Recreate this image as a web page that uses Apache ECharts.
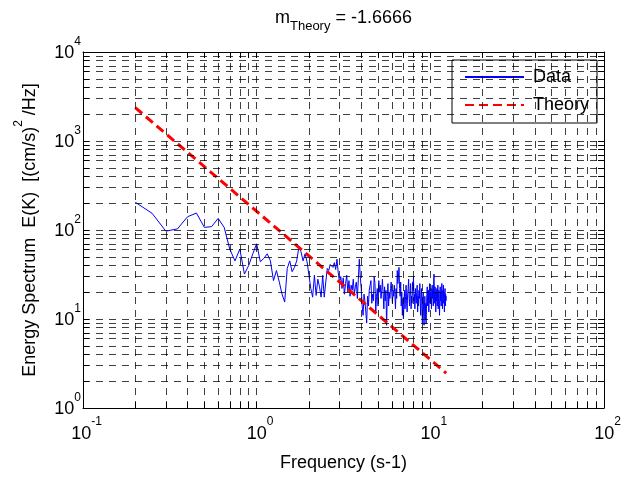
<!DOCTYPE html>
<html><head><meta charset="utf-8">
<script src="https://cdn.jsdelivr.net/npm/echarts@6/dist/echarts.min.js"></script>
<style>html,body{margin:0;padding:0;background:#fff}#c{width:630px;height:477px}</style>
</head><body><div id="c"></div>
<script>
// Frequency samples (Hz)
const freq = [
  0.20,0.25,0.30,0.35,0.40,0.45,0.50,0.55,0.60,0.65,
  0.70,0.75,0.80,0.85,0.90,0.95,1.00,1.05,1.10,1.15,
  1.20,1.25,1.30,1.35,1.40,1.45,1.50,1.55,1.60,1.65,
  1.70,1.75,1.80,1.85,1.90,1.95,2.00,2.05,2.10,2.15,
  2.20,2.25,2.30,2.35,2.40,2.45,2.50,2.55,2.60,2.65,
  2.70,2.75,2.80,2.85,2.90,2.95,3.00,3.05,3.10,3.15,
  3.20,3.25,3.30,3.35,3.40,3.45,3.50,3.55,3.60,3.65,
  3.70,3.75,3.80,3.85,3.90,3.95,4.00,4.05,4.10,4.15,
  4.20,4.25,4.30,4.35,4.40,4.45,4.50,4.55,4.60,4.65,
  4.70,4.75,4.80,4.85,4.90,4.95,5.00,5.05,5.10,5.15,
  5.20,5.25,5.30,5.35,5.40,5.45,5.50,5.55,5.60,5.65,
  5.70,5.75,5.80,5.85,5.90,5.95,6.00,6.05,6.10,6.15,
  6.20,6.25,6.30,6.35,6.40,6.45,6.50,6.55,6.60,6.65,
  6.70,6.75,6.80,6.85,6.90,6.95,7.00,7.05,7.10,7.15,
  7.20,7.25,7.30,7.35,7.40,7.45,7.50,7.55,7.60,7.65,
  7.70,7.75,7.80,7.85,7.90,7.95,8.00,8.05,8.10,8.15,
  8.20,8.25,8.30,8.35,8.40,8.45,8.50,8.55,8.60,8.65,
  8.70,8.75,8.80,8.85,8.90,8.95,9.00,9.05,9.10,9.15,
  9.20,9.25,9.30,9.35,9.40,9.45,9.50,9.55,9.60,9.65,
  9.70,9.75,9.80,9.85,9.90,9.95,10.00,10.05,10.10,10.15,
  10.20,10.25,10.30,10.35,10.40,10.45,10.50,10.55,10.60,10.65,
  10.70,10.75,10.80,10.85,10.90,10.95,11.00,11.05,11.10,11.15,
  11.20,11.25,11.30,11.35,11.40,11.45,11.50,11.55,11.60,11.65,
  11.70,11.75,11.80,11.85,11.90,11.95,12.00,12.05,12.10,12.15,
  12.20,12.25,12.30,12.35
];
// Measured energy spectrum values
const energy = [
  205,154,97,103,141,155,107,109,135,107,
  61,45,61,32,40,54,70,44,48,54,
  45,27,35,26,19,15.5,37,45,34,38,
  45,64,57,45,54,44,31,22,17.6,31,
  18.4,28,23,17.6,31,17.6,26,37,35,41,
  40,38,43,36,47,33,26,30,22,29,
  19,25,31,20,27,18,24,21,28,19,
  23,26,17,28,47,30,22,14,11,19,
  16,12,9,18,14,21,24,27,15,19,
  16,30,25,12,18,22,14,27,20,24,
  17,21,28,19,13,23,16,21,8.5,18,
  25,14,20,17,22,26,27,15,21,18,
  24,19,13,22,17,35,25,30,38,22,
  18,26,14,20,11,17,10,15,21,13,
  18,24,16,12,19,22,28,17,14,20,
  25,13,18,15,26,21,30,16,19,13,
  22,17,15,20,24,12,18,14,21,17,
  25,15,11,19,22,13,9,16,20,12,
  8.5,14,18,10,15,8.8,13,19,23,14,
  17,21,12,18,25,15,20,16,22,13,
  19,24,17,21,14,26,32,20,15,23,
  18,12,20,16,22,14,19,24,13,17,
  21,15,11,18,23,16,20,14,19,25,
  17,13,21,18,24,15,20,12,17,22,
  14,19,16,18
];
// Theory line endpoints (slope -5/3)
const theoryFreq = [0.2, 12.35];
const theoryEnergy = [2370, 2.46];

const xDecades = [0.1, 1, 10];
const yDecades = [1, 10, 100, 1000];
const mult = [1,2,3,4,5,6,7,8,9];
const xGrid = []; xDecades.forEach(d => mult.forEach(k => xGrid.push(+(d*k).toPrecision(3)))); xGrid.push(100);
const yGrid = []; yDecades.forEach(d => mult.forEach(k => yGrid.push(+(d*k).toPrecision(3)))); yGrid.push(10000);

const FONT = 'Liberation Sans';
const supRich = {
  b: {fontSize: 18, fontFamily: FONT, color: '#000', lineHeight: 27, verticalAlign: 'bottom'},
  s: {fontSize: 12, fontFamily: FONT, color: '#000', lineHeight: 12, verticalAlign: 'top'}
};
const bx = Object.assign({}, supRich.b, {padding: [0,0,0,7]});
function powLabel(v) {
  const e = Math.round(Math.log10(v));
  return '{b|10}{s|' + e + '}';
}
const gridDash = {color: '#000', width: 1, type: [7, 6], opacity: 0.75};

function axisCommon(extra) {
  return Object.assign({
    type: 'log', logBase: 10,
    axisLine: {show: true, onZero: false, lineStyle: {color: '#000', width: 1}},
    splitLine: {show: false},
    minorTick: {show: false},
    minorSplitLine: {show: false}
  }, extra);
}

const chart = echarts.init(document.getElementById('c'), null, {renderer: 'canvas'});
chart.setOption({
  animation: false,
  backgroundColor: '#fff',
  grid: {left: 83, right: 26, top: 52, bottom: 67, containLabel: false},
  xAxis: [
    axisCommon({min: 0.1, max: 100, position: 'bottom',
      axisTick: {show: true, inside: true, length: 6, customValues: xGrid, lineStyle: {color: '#000'}},
      axisLabel: {show: true, margin: 8, padding: [0,0,6,0], formatter: powLabel, rich: {b: bx, s: supRich.s}},
      name: 'Frequency (s-1)', nameLocation: 'middle', nameGap: 46,
      nameTextStyle: {fontSize: 18, fontFamily: FONT, color: '#000'}}),
    axisCommon({min: 0.1, max: 100, position: 'top',
      axisTick: {show: true, inside: true, length: 6, customValues: xGrid, lineStyle: {color: '#000'}},
      axisLabel: {show: false},
      name: '{a|m}{sub|Theory}{a| = -1.6666}', nameLocation: 'middle', nameGap: 23,
      nameTextStyle: {rich: {
        a: {fontSize: 18, fontFamily: FONT, color: '#000', lineHeight: 20, verticalAlign: 'top'},
        sub: {fontSize: 13, fontFamily: FONT, color: '#000', lineHeight: 13, padding: [11,0,0,0], verticalAlign: 'top'}
      }}})
  ],
  yAxis: [
    axisCommon({min: 1, max: 10000, position: 'left',
      axisTick: {show: true, inside: true, length: 6, customValues: yGrid, lineStyle: {color: '#000'}},
      axisLabel: {show: true, margin: 2, padding: [0,0,6,0], formatter: powLabel, rich: supRich},
      name: '{a|Energy Spectrum  E(K)  [(cm/s)}{s|2}{a| /Hz]}', nameLocation: 'middle', nameGap: 44, nameRotate: 90,
      nameTextStyle: {rich: {
        a: {fontSize: 18, fontFamily: FONT, color: '#000', lineHeight: 26, verticalAlign: 'bottom'},
        s: {fontSize: 12, fontFamily: FONT, color: '#000', lineHeight: 12, verticalAlign: 'top'}
      }}}),
    axisCommon({min: 1, max: 10000, position: 'right',
      axisTick: {show: true, inside: true, length: 6, customValues: yGrid, lineStyle: {color: '#000'}},
      axisLabel: {show: false}})
  ],
  legend: {
    data: [{name: 'Data', itemStyle: {opacity: 0}}, {name: 'Theory', itemStyle: {opacity: 0}}],
    orient: 'vertical', left: 452, top: 60,
    padding: [8, 8, 9, 12], itemWidth: 59, itemHeight: 20, itemGap: 10,
    itemStyle: {opacity: 0},
    borderColor: '#000', borderWidth: 1, borderRadius: 0, backgroundColor: '#fff',
    textStyle: {fontSize: 18, fontFamily: FONT, color: '#000', padding: [0,0,0,4]}
  },
  series: [
    {name: 'grid', type: 'line', data: [], silent: true, z: 1,
      markLine: {silent: true, symbol: ['none','none'], label: {show: false}, animation: false,
        lineStyle: gridDash,
        emphasis: {disabled: true},
        data: xGrid.map(v => ({xAxis: v})).concat(yGrid.map(v => ({yAxis: v})))}},
    {name: 'Data', type: 'line', showSymbol: false, symbol: 'none', z: 3,
      lineStyle: {color: '#0000ff', width: 1}, itemStyle: {color: '#0000ff'},
      data: freq.map((f, i) => [f, energy[i]])},
    {name: 'Theory', type: 'line', showSymbol: false, symbol: 'none', z: 4,
      lineStyle: {color: '#ff0000', width: 3, type: [9, 5]}, itemStyle: {color: '#ff0000'},
      data: theoryFreq.map((f, i) => [f, theoryEnergy[i]])}
  ]
});
</script></body></html>
